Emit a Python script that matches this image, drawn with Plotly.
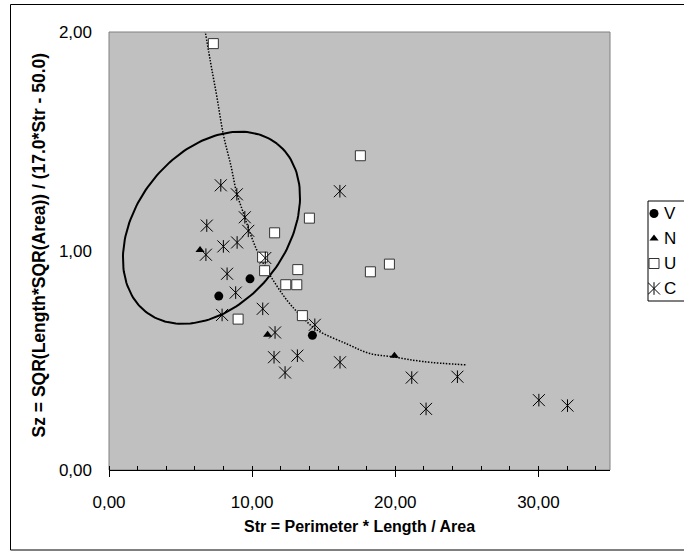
import numpy as np
import plotly.graph_objects as go

# ---- data ----
v_x = [7.67, 9.85, 14.21]
v_y = [0.794, 0.873, 0.615]

n_x = [6.36, 11.08, 19.94]
n_y = [1.005, 0.618, 0.522]

u_x = [7.29, 17.56, 14.00, 11.57, 10.73, 10.87, 13.19, 19.59, 18.26, 12.35, 13.12, 13.51, 9.02]
u_y = [1.947, 1.435, 1.150, 1.083, 0.972, 0.910, 0.915, 0.940, 0.905, 0.846, 0.846, 0.705, 0.689]

c_x = [7.81, 8.93, 16.13, 6.83, 9.49, 9.73, 8.95, 7.99, 6.77, 10.92, 8.25, 8.85, 10.74, 7.90,
       14.38, 11.60, 11.53, 13.16, 12.30, 16.14, 21.15, 24.34, 22.15, 30.03, 32.03]
c_y = [1.300, 1.259, 1.273, 1.116, 1.154, 1.092, 1.039, 1.021, 0.983, 0.968, 0.896, 0.810, 0.736, 0.708,
       0.663, 0.628, 0.515, 0.522, 0.445, 0.492, 0.422, 0.426, 0.279, 0.319, 0.294]

# dotted trend curve
curve_x = [6.64, 7.06, 7.53, 7.99, 8.53, 8.92, 9.39, 9.80, 10.32, 10.90, 11.66, 12.47,
           13.35, 14.51, 16.61, 18.17, 19.92, 21.96, 24.95]
curve_y = [2.034, 1.874, 1.706, 1.531, 1.386, 1.265, 1.173, 1.092, 1.005, 0.929, 0.847, 0.772,
           0.708, 0.640, 0.576, 0.533, 0.516, 0.495, 0.480]

# ellipse: centre and two conjugate semi-axis vectors (data units)
ell_center = (7.16, 1.106)
ell_u = (4.58, 0.384)
ell_v = (-4.16, 0.212)

legend_names = ["V", "N", "U", "C"]

x_title = "Str = Perimeter * Length / Area"
y_title = "Sz = SQR(Length*SQR(Area)) / (17.0*Str - 50.0)"

FONT = "Arial, Liberation Sans, sans-serif"
W, H = 684, 555

# marker styles
STYLE = {
    "V": [dict(symbol="circle", size=9, color="black")],
    "N": [dict(symbol="triangle-up", size=8, color="black")],
    "U": [dict(symbol="square", size=10, color="white", line=dict(color="#333333", width=1))],
    "C": [dict(symbol="x-thin-open", size=12, color="black", line=dict(color="black", width=1)),
          dict(symbol="line-ns-open", size=9, color="black", line=dict(color="black", width=1))],
}
SERIES = {"V": (v_x, v_y), "N": (n_x, n_y), "U": (u_x, u_y), "C": (c_x, c_y)}

t = np.linspace(0, 2 * np.pi, 181)
ell_x = ell_center[0] + ell_u[0] * np.cos(t) + ell_v[0] * np.sin(t)
ell_y = ell_center[1] + ell_u[1] * np.cos(t) + ell_v[1] * np.sin(t)

fig = go.Figure()

fig.add_trace(go.Scatter(x=ell_x, y=ell_y, mode="lines", line=dict(color="black", width=2),
                         showlegend=False, hoverinfo="skip"))
fig.add_trace(go.Scatter(x=curve_x, y=curve_y, mode="lines",
                         line=dict(color="black", width=1.5, dash="1.5px,1.5px", shape="spline"),
                         showlegend=False, hoverinfo="skip"))

for name in legend_names:
    xs, ys = SERIES[name]
    for m in STYLE[name]:
        fig.add_trace(go.Scatter(x=xs, y=ys, mode="markers", name=name, marker=m, showlegend=False))

# manual legend on an auxiliary (hidden) axis pair
for i, name in enumerate(legend_names):
    row = len(legend_names) - i - 0.5
    for m in STYLE[name]:
        fig.add_trace(go.Scatter(x=[6], y=[row], xaxis="x3", yaxis="y3", mode="markers",
                                 marker=m, showlegend=False, hoverinfo="skip"))
    fig.add_annotation(x=14, y=row, xref="x3", yref="y3", text=name, showarrow=False,
                       xanchor="left", yanchor="middle", font=dict(family=FONT, size=17, color="black"))

px = lambda p: p / W
py = lambda p: (H - p) / H

XD = [px(109), px(610)]
YD = [py(470), py(32)]

# plot area background + grey border
fig.add_shape(type="rect", xref="paper", yref="paper", x0=XD[0], y0=YD[0], x1=XD[1], y1=YD[1],
              fillcolor="#C0C0C0", line=dict(color="#808080", width=1), layer="below")
# legend box
fig.add_shape(type="rect", xref="paper", yref="paper", x0=px(648), y0=py(301), x1=px(700), y1=py(201),
              fillcolor="white", line=dict(color="black", width=1), layer="below")
# chart-area border
fig.add_shape(type="rect", xref="paper", yref="paper", x0=px(10.5), y0=py(550), x1=px(720), y1=py(4.5),
              line=dict(color="black", width=1), layer="below")

# axis titles
fig.add_annotation(x=(XD[0] + XD[1]) / 2, y=py(526), xref="paper", yref="paper", text=x_title,
                   showarrow=False, xanchor="center", yanchor="middle",
                   font=dict(family=FONT, size=16, color="black", weight="bold"))
fig.add_annotation(x=px(39), y=(YD[0] + YD[1]) / 2 + 0.01, xref="paper", yref="paper", text=y_title,
                   showarrow=False, textangle=-90, xanchor="center", yanchor="middle",
                   font=dict(family=FONT, size=17.5, color="black", weight="bold"))

fig.update_layout(
    width=W, height=H,
    margin=dict(l=0, r=0, t=0, b=0, autoexpand=False),
    paper_bgcolor="white", plot_bgcolor="rgba(0,0,0,0)",
    separators=",.",
    font=dict(family=FONT, size=17, color="black"),
    showlegend=False,
    xaxis=dict(domain=XD, range=[0, 35], dtick=10, tick0=0, tickformat=".2f", showgrid=False, zeroline=False,
               showline=True, linecolor="black", linewidth=1,
               ticks="outside", ticklen=6, tickcolor="black", ticklabelstandoff=11,
               minor=dict(dtick=2, ticks="inside", ticklen=4, tickcolor="black"),
               tickfont=dict(family=FONT, size=17, color="black")),
    xaxis2=dict(range=[0, 35], dtick=10, tick0=0, overlaying="x", side="bottom", anchor="y",
                showgrid=False, zeroline=False, showticklabels=False,
                ticks="inside", ticklen=5, tickcolor="black"),
    yaxis=dict(domain=YD, range=[0, 2], dtick=1, tick0=0, tickformat=".2f", showgrid=False, zeroline=False,
               showline=False, ticks="", ticklabelstandoff=16,
               tickfont=dict(family=FONT, size=17, color="black")),
    xaxis3=dict(domain=[px(648), 1.0], range=[0, 36], visible=False, anchor="y3", fixedrange=True),
    yaxis3=dict(domain=[py(301), py(201)], range=[0, 4], visible=False, anchor="x3", fixedrange=True),
)

fig.write_html("out.html", config={"displayModeBar": False},
               post_script="document.body.style.margin='0px';")
